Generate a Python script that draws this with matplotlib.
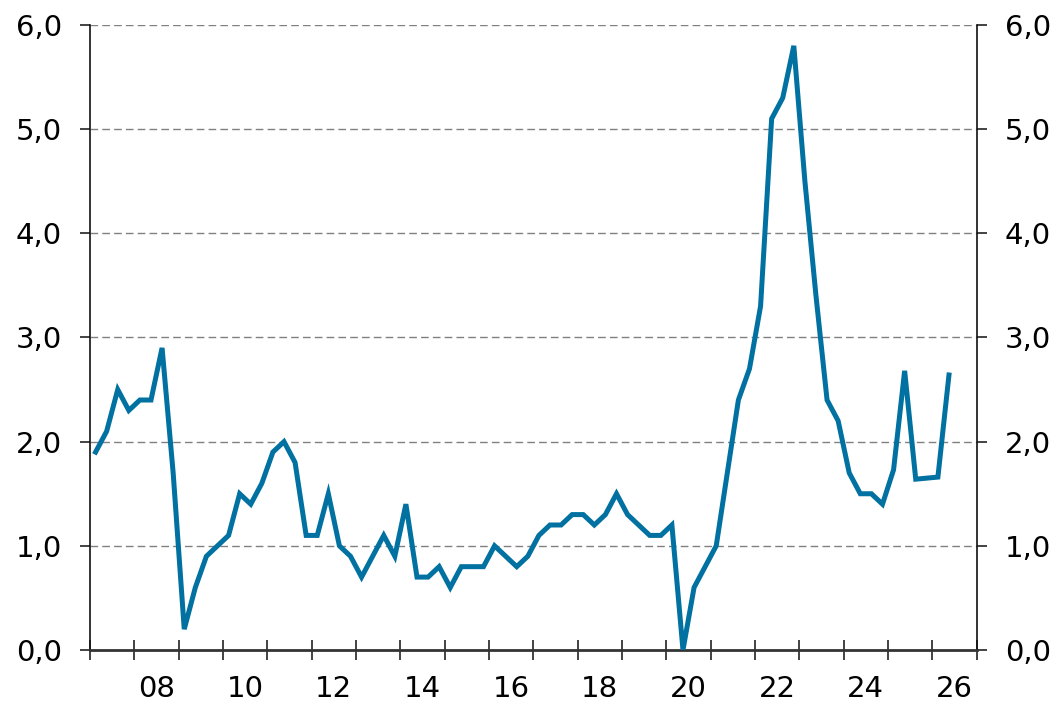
import matplotlib
matplotlib.use("Agg")
import matplotlib.pyplot as plt
import numpy as np
import pandas as pd

# quarterly values, 2007Q1 - 2026Q2
quarters = pd.period_range("2007Q1", "2026Q2", freq="Q")
values = [
    1.9, 2.1, 2.5, 2.3,      # 2007
    2.4, 2.4, 2.9, 1.7,      # 2008
    0.2, 0.6, 0.9, 1.0,      # 2009
    1.1, 1.5, 1.4, 1.6,      # 2010
    1.9, 2.0, 1.8, 1.1,      # 2011
    1.1, 1.5, 1.0, 0.9,      # 2012
    0.7, 0.9, 1.1, 0.9,      # 2013
    1.4, 0.7, 0.7, 0.8,      # 2014
    0.6, 0.8, 0.8, 0.8,      # 2015
    1.0, 0.9, 0.8, 0.9,      # 2016
    1.1, 1.2, 1.2, 1.3,      # 2017
    1.3, 1.2, 1.3, 1.5,      # 2018
    1.3, 1.2, 1.1, 1.1,      # 2019
    1.2, 0.0, 0.6, 0.8,      # 2020
    1.0, 1.7, 2.4, 2.7,      # 2021
    3.3, 5.1, 5.3, 5.8,      # 2022
    4.5, 3.4, 2.4, 2.2,      # 2023
    1.7, 1.5, 1.5, 1.4,      # 2024
    1.73, 2.68, 1.64, 1.65,  # 2025
    1.66, 2.64,              # 2026
]
label_years = [2008, 2010, 2012, 2014, 2016, 2018, 2020, 2022, 2024, 2026]
y_ticks = [0, 1, 2, 3, 4, 5, 6]

x = np.array([q.year + (q.quarter - 0.5) / 4 for q in quarters])

LINE = "#0071a0"
FS = 21

fig = plt.figure(figsize=(10.63, 7.04), dpi=100)
ax = fig.add_axes([0.0847, 0.0767, 0.9188 - 0.0847, 0.9645 - 0.0767])

for yv in y_ticks[1:]:
    ax.axhline(yv, color="#808080", lw=1.0, ls=(0, (5.5, 3)), zorder=1)

ax.plot(x, values, color=LINE, lw=3.6, solid_joinstyle="miter", zorder=3)

ax.set_xlim(2007, 2027)
ax.set_ylim(0, 6)

ax.set_xticks(np.arange(2007, 2028))
ax.set_xticklabels([])
ax.set_xticks([yr + 0.5 for yr in label_years], minor=True)
ax.set_xticklabels([f"{yr % 100:02d}" for yr in label_years], minor=True)
ax.tick_params(axis="x", which="major", direction="inout", length=14,
               width=1.2, color="#222222")
ax.tick_params(axis="x", which="minor", length=0, pad=18, labelsize=FS)

ax.set_yticks(y_ticks)
ax.set_yticklabels([f"{v:.1f}".replace(".", ",") for v in y_ticks])
ax.tick_params(axis="y", direction="out", length=7.2, width=1.2,
               color="#222222", pad=13, labelsize=FS,
               left=True, right=True, labelleft=True, labelright=True)

ax.spines["top"].set_visible(False)
for side in ["left", "right"]:
    ax.spines[side].set_linewidth(1.2)
    ax.spines[side].set_color("#111111")
ax.spines["bottom"].set_linewidth(2.0)
ax.spines["bottom"].set_color("#333333")

fig.savefig("out.png", dpi=100)
